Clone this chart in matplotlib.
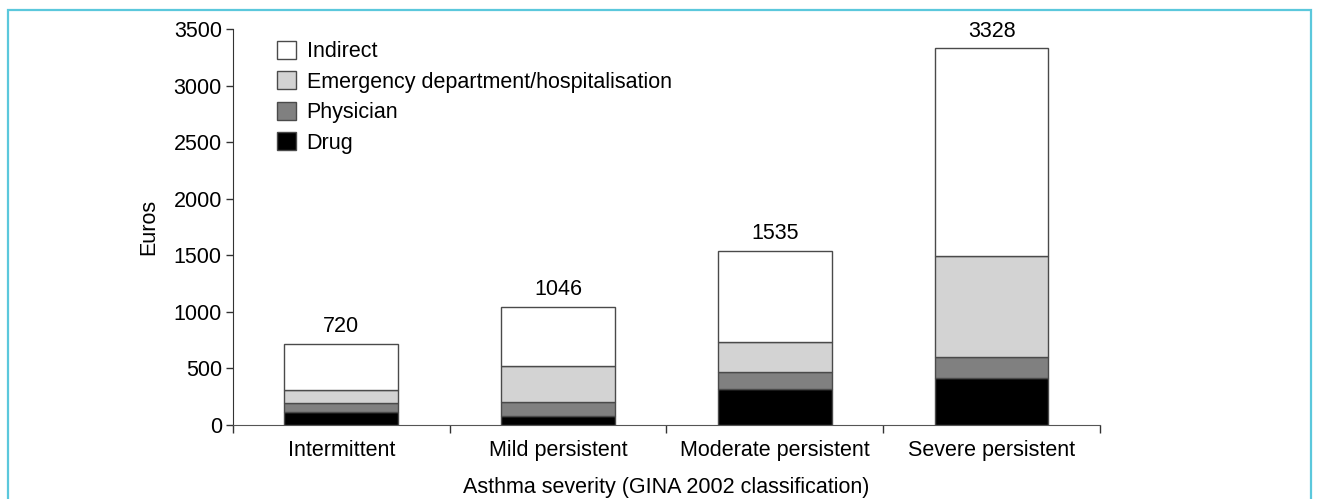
import matplotlib
matplotlib.use("Agg")
import matplotlib.pyplot as plt
from matplotlib.patches import Rectangle
import numpy as np

plt.rcParams['font.family'] = ['Liberation Sans', 'DejaVu Sans']

categories = ["Intermittent", "Mild persistent", "Moderate persistent", "Severe persistent"]
drug = [112, 82, 320, 418]
physician = [80, 118, 150, 180]
emergency = [117, 321, 265, 896]
indirect = [411, 525, 800, 1834]
totals = [720, 1046, 1535, 3328]
series_names = ["Drug", "Physician", "Emergency department/hospitalisation", "Indirect"]
series_colors = ["#000000", "#808080", "#d3d3d3", "#ffffff"]

FS = 15.5

fig = plt.figure(figsize=(13.17, 4.99), dpi=100)
ax = fig.add_axes([0.1769, 0.1483, 0.8352 - 0.1769, 0.9419 - 0.1483])

x = np.arange(len(categories))
bottom = np.zeros(len(categories))
handles = []
for vals, name, col in zip([drug, physician, emergency, indirect], series_names, series_colors):
    b = ax.bar(x, vals, width=0.525, bottom=bottom, color=col, edgecolor="#4a4a4a",
               linewidth=1.0, label=name)
    handles.append(b)
    bottom += np.array(vals)

for xi, t, top in zip(x, totals, bottom):
    ax.annotate(str(t), (xi, top), xytext=(0, 5), textcoords="offset points",
                ha="center", va="bottom", fontsize=FS)

ax.set_xlim(-0.5, 3.5)
ax.set_ylim(0, 3500)
ax.set_yticks(np.arange(0, 3501, 500))
ax.set_xticks(np.arange(-0.5, 3.6, 1.0))
ax.set_xticklabels([])
ax.set_xticks(x, minor=True)
ax.set_xticklabels(categories, minor=True)
ax.tick_params(axis="x", which="minor", length=0, pad=11, labelsize=FS)
ax.tick_params(axis="x", which="major", length=6, width=1, color="#333333")
ax.tick_params(axis="y", length=5, width=1, labelsize=FS, color="#333333", pad=3)
for s in ["top", "right"]:
    ax.spines[s].set_visible(False)
ax.spines["left"].set_color("#333333")
ax.spines["bottom"].set_color("#555555")
ax.set_ylabel("Euros", fontsize=FS, labelpad=10)
ax.set_xlabel("Asthma severity (GINA 2002 classification)", fontsize=FS, labelpad=11)

leg = ax.legend(handles[::-1], series_names[::-1], loc="upper left",
                bbox_to_anchor=(277 / 1317, 1 - 41 / 499), bbox_transform=fig.transFigure,
                frameon=False, fontsize=FS, handlelength=0.88, handleheight=0.88,
                handletextpad=0.5, labelspacing=0.43, borderpad=0, borderaxespad=0)

frame = Rectangle((8 / 1317, -0.05), (1311 - 8) / 1317, 1 - 10 / 499 + 0.05,
                  transform=fig.transFigure, fill=False, edgecolor="#5bc8dc",
                  linewidth=1.6, clip_on=False)
fig.add_artist(frame)

fig.savefig("out.png", dpi=100)
